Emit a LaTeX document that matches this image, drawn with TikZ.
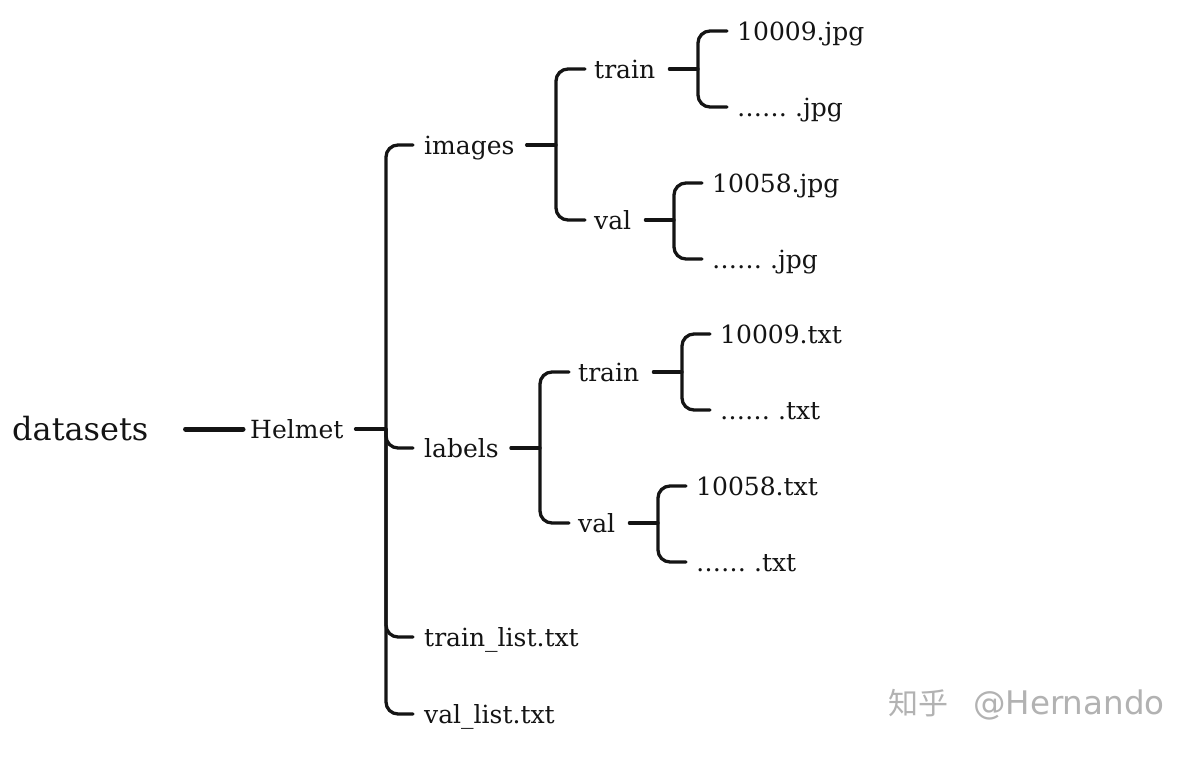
\documentclass[tikz,border=0pt]{standalone}
\usepackage{fontspec}
\setmainfont{DejaVu Serif}
\newfontfamily\cjk{Noto Sans CJK SC}
\newfontfamily\wmsans{DejaVu Sans}
\begin{document}
\begin{tikzpicture}[x=1pt,y=-1pt,
  lbl/.style={anchor=west, inner sep=0pt, text height=22pt, text depth=3pt, font=\fontsize{25}{30}\selectfont, text=black!92},
  conn/.style={line width=3.3pt, rounded corners=12pt, draw=black!92, line cap=round},
  rootline/.style={line width=5pt, draw=black!92, line cap=round},
]
\fill[white] (0,0) rectangle (1200,756);
\useasboundingbox (0,0) rectangle (1200,756);

% texts
\node[anchor=west, inner sep=0pt, text height=26pt, text depth=4pt, font=\fontsize{32}{38}\selectfont, text=black!92] (datasets) at (12,429) {datasets};
\node[lbl] (helmet) at (250,429) {Helmet};
\node[lbl] (images) at (424,145) {images};
\node[lbl] (labels) at (424,448) {labels};
\node[lbl] (trainlist) at (424,637) {train\_list.txt};
\node[lbl] (vallist) at (424,714) {val\_list.txt};
\node[lbl] (itrain) at (594,69) {train};
\node[lbl] (ival) at (594,220) {val};
\node[lbl] (itj1) at (737,31) {10009.jpg};
\node[lbl] (itj2) at (737,107) {\textellipsis\textellipsis\ .jpg};
\node[lbl] (ivj1) at (712,183) {10058.jpg};
\node[lbl] (ivj2) at (712,259) {\textellipsis\textellipsis\ .jpg};
\node[lbl] (ltrain) at (578,372) {train};
\node[lbl] (lval) at (578,523) {val};
\node[lbl] (ltt1) at (720,334) {10009.txt};
\node[lbl] (ltt2) at (720,410) {\textellipsis\textellipsis\ .txt};
\node[lbl] (lvt1) at (696,486) {10058.txt};
\node[lbl] (lvt2) at (696,562) {\textellipsis\textellipsis\ .txt};

% spine coordinates
\coordinate (sH) at (386,429);
\coordinate (sI) at (556,145);
\coordinate (sIT) at (698,69);
\coordinate (sIV) at (674,220);
\coordinate (sL) at (540,448);
\coordinate (sLT) at (682,372);
\coordinate (sLV) at (658,523);

% root
\draw[rootline] ([xshift=37pt]datasets.east) -- ([xshift=-7pt]helmet.west);

% Helmet
\draw[conn] ([xshift=12pt]helmet.east) -- (sH);
\draw[conn] ([xshift=-11pt]images.west) -| (sH) |- ([xshift=-11pt]vallist.west);
\draw[conn] (sH) |- ([xshift=-11pt]labels.west);
\draw[conn] (sH) |- ([xshift=-11pt]trainlist.west);

% images
\draw[conn] ([xshift=12pt]images.east) -- (sI);
\draw[conn] ([xshift=-9pt]itrain.west) -| (sI) |- ([xshift=-9pt]ival.west);
\draw[conn] ([xshift=14pt]itrain.east) -- (sIT);
\draw[conn] ([xshift=-10pt]itj1.west) -| (sIT) |- ([xshift=-10pt]itj2.west);
\draw[conn] ([xshift=14pt]ival.east) -- (sIV);
\draw[conn] ([xshift=-10pt]ivj1.west) -| (sIV) |- ([xshift=-10pt]ivj2.west);

% labels
\draw[conn] ([xshift=12pt]labels.east) -- (sL);
\draw[conn] ([xshift=-9pt]ltrain.west) -| (sL) |- ([xshift=-9pt]lval.west);
\draw[conn] ([xshift=14pt]ltrain.east) -- (sLT);
\draw[conn] ([xshift=-10pt]ltt1.west) -| (sLT) |- ([xshift=-10pt]ltt2.west);
\draw[conn] ([xshift=14pt]lval.east) -- (sLV);
\draw[conn] ([xshift=-10pt]lvt1.west) -| (sLV) |- ([xshift=-10pt]lvt2.west);

% watermark
\node[anchor=west, inner sep=0pt, text=black!30] (wm) at (888,705) {{\cjk\fontsize{30}{36}\selectfont 知乎}\hspace{25pt}{\wmsans\fontsize{32.5}{38}\selectfont @Hernando}};
\end{tikzpicture}
\end{document}
